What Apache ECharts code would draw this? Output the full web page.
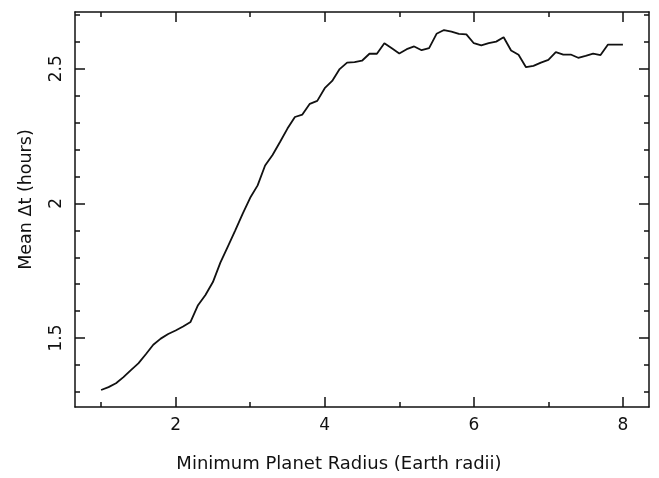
<!DOCTYPE html>
<html>
<head>
<meta charset="utf-8">
<script src="https://cdn.jsdelivr.net/npm/echarts@6/dist/echarts.min.js"></script>
<style>
html,body{margin:0;padding:0;background:#fff;}
#chart{width:659px;height:478px;}
</style>
</head>
<body>
<div id="chart"></div>
<script>
const radius = [1.0,1.1,1.2,1.3,1.4,1.5,1.6,1.7,1.8,1.9,
  2.0,2.1,2.2,2.3,2.4,2.5,2.6,2.7,2.8,2.9,
  3.0,3.1,3.2,3.3,3.4,3.5,3.6,3.7,3.8,3.9,
  4.0,4.1,4.2,4.3,4.4,4.5,4.6,4.7,4.8,4.9,
  5.0,5.1,5.2,5.3,5.4,5.5,5.6,5.7,5.8,5.9,
  6.0,6.1,6.2,6.3,6.4,6.5,6.6,6.7,6.8,6.9,
  7.0,7.1,7.2,7.3,7.4,7.5,7.6,7.7,7.8,7.9,8.0];
const meanDt = [1.307,1.318,1.332,1.355,1.381,1.406,1.440,1.475,1.498,1.515,
  1.528,1.543,1.560,1.622,1.660,1.708,1.780,1.840,1.900,1.962,
  2.021,2.067,2.141,2.180,2.228,2.278,2.321,2.330,2.370,2.381,
  2.428,2.455,2.499,2.523,2.525,2.530,2.556,2.556,2.595,2.576,
  2.557,2.573,2.583,2.569,2.577,2.630,2.644,2.638,2.630,2.628,
  2.595,2.587,2.595,2.601,2.617,2.568,2.552,2.506,2.511,2.523,
  2.533,2.562,2.553,2.553,2.541,2.548,2.556,2.551,2.590,2.590,2.590];
const xMajorTicks = [2,4,6,8];
const xMinorTicks = [1,3,5,7];
const yMajorTicks = [1.5,2,2.5];
const yMinorTicks = [1.3,1.4,1.6,1.7,1.8,1.9,2.1,2.2,2.3,2.4,2.6,2.7];
const xLabels = ['2','4','6','8'];
const yLabels = ['1.5','2','2.5'];
const xTitle = 'Minimum Planet Radius (Earth radii)';
const yTitle = 'Mean \u0394t (hours)';

const FONT = 'DejaVu Sans';
const XMIN = 0.65, XMAX = 8.35, YMIN = 1.244, YMAX = 2.711;
const lineCol = '#111';

function xAxisDef(pos, ticks, len, withLine, withLabels) {
  return {
    type: 'value', position: pos, min: XMIN, max: XMAX,
    axisLine: {show: withLine, onZero: false, lineStyle: {color: lineCol, width: 1.5}},
    axisTick: {show: true, inside: true, length: len, customValues: ticks, lineStyle: {color: lineCol, width: 1.5}},
    axisLabel: withLabels ? {show: true, customValues: ticks, margin: 10, fontSize: 17, fontFamily: FONT, color: '#111',
      formatter: v => xLabels[xMajorTicks.indexOf(v)] ?? String(v)} : {show: false},
    splitLine: {show: false}
  };
}
function yAxisDef(pos, ticks, len, withLine, withLabels) {
  return {
    type: 'value', position: pos, min: YMIN, max: YMAX,
    axisLine: {show: withLine, onZero: false, lineStyle: {color: lineCol, width: 1.5}},
    axisTick: {show: true, inside: true, length: len, customValues: ticks, lineStyle: {color: lineCol, width: 1.5}},
    axisLabel: withLabels ? {show: true, customValues: ticks, rotate: 90, margin: 10, fontSize: 17, fontFamily: FONT, color: '#111',
      formatter: v => { const i = yMajorTicks.findIndex(t => Math.abs(t - v) < 1e-6); return i >= 0 ? yLabels[i] : String(v); }} : {show: false},
    splitLine: {show: false}
  };
}

const xb = xAxisDef('bottom', xMajorTicks, 10, true, true);
xb.name = xTitle; xb.nameLocation = 'middle'; xb.nameGap = 48;
xb.nameTextStyle = {fontSize: 18, fontFamily: FONT, color: '#111', padding: [0, 46, 0, 0]};
const yl = yAxisDef('left', yMajorTicks, 10, true, true);
yl.name = yTitle; yl.nameLocation = 'middle'; yl.nameGap = 40;
yl.nameTextStyle = {fontSize: 17.5, fontFamily: FONT, color: '#111', padding: [0, 0, 0, 20]};

const chart = echarts.init(document.getElementById('chart'), null, {renderer: 'canvas'});
chart.setOption({
  animation: false,
  backgroundColor: '#fff',
  grid: {left: 75, right: 10, top: 12, bottom: 70, containLabel: false},
  xAxis: [
    xb,
    xAxisDef('bottom', xMinorTicks, 5, false, false),
    xAxisDef('top', xMajorTicks, 10, true, false),
    xAxisDef('top', xMinorTicks, 5, false, false)
  ],
  yAxis: [
    yl,
    yAxisDef('left', yMinorTicks, 5, false, false),
    yAxisDef('right', yMajorTicks, 10, true, false),
    yAxisDef('right', yMinorTicks, 5, false, false)
  ],
  series: [{
    type: 'line',
    xAxisIndex: 0, yAxisIndex: 0,
    data: radius.map((r, i) => [r, meanDt[i]]),
    showSymbol: false,
    lineStyle: {color: '#111', width: 1.8},
    smooth: false
  }]
});
</script>
</body>
</html>
